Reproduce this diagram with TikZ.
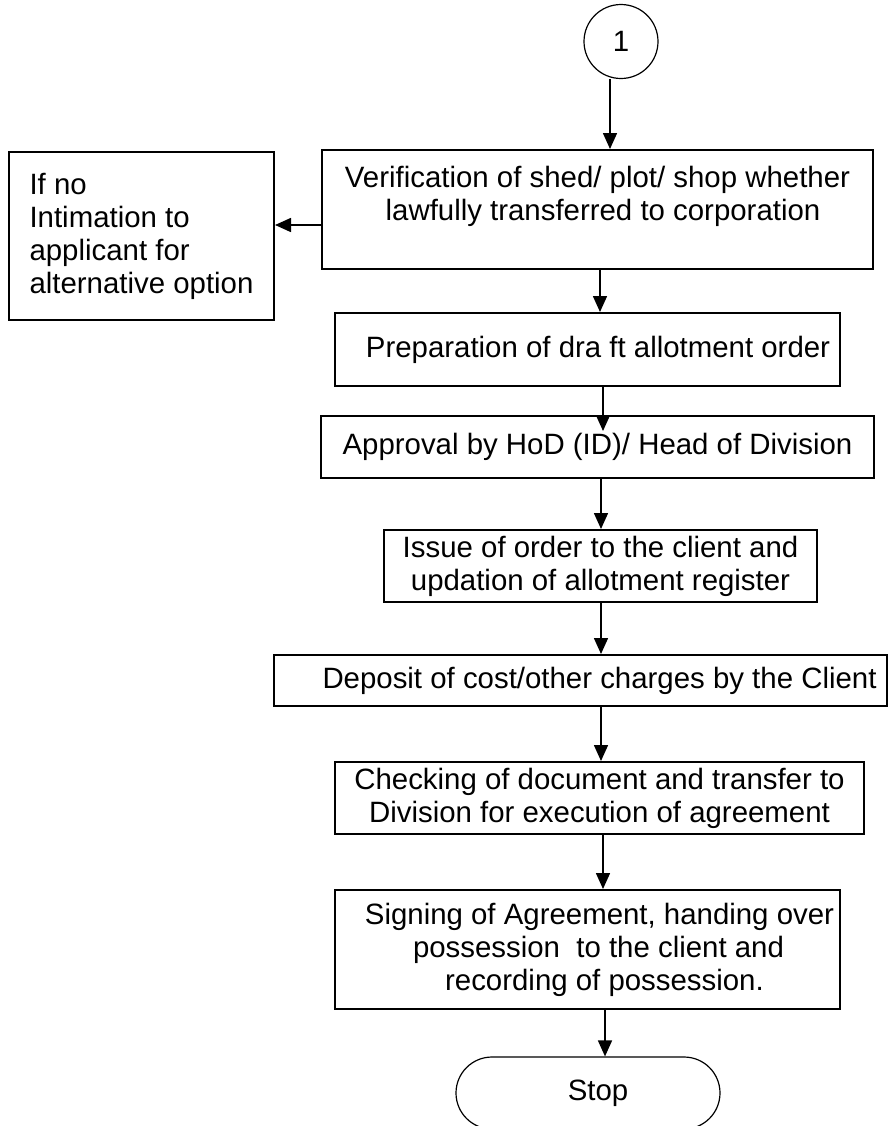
\documentclass[tikz,border=0pt]{standalone}
\usepackage{fontspec}
\setmainfont{Liberation Sans}
\usepackage{tikz}
\usetikzlibrary{arrows.meta, positioning, calc}
\tikzstyle{arrow} = [line width=0.8pt,-{Triangle[length=8pt,width=7pt]}]
\tikzstyle{stepbox} = [rectangle, line width=1pt, draw=black, align=center, inner sep=2pt, font=\fontsize{14.7}{16.5}\selectfont]
\tikzstyle{connector} = [circle, line width=0.6pt, draw=black, minimum size=37pt, inner sep=0pt, font=\fontsize{14.7}{16.5}\selectfont]
\tikzstyle{terminal} = [rectangle, rounded corners=18pt, line width=0.6pt, draw=black, font=\fontsize{14.7}{16.5}\selectfont]

\begin{document}
\begin{tikzpicture}[x=0.5pt,y=-0.5pt]
    \useasboundingbox (0,0) rectangle (889,1126);
   	\node[connector](s_0) at (621,41.5) {1};
   	\node[stepbox,minimum width=275.5pt,minimum height=59.5pt](s_1) at (597.5,209.5) {Verification of shed/ plot/ shop whether\\\hspace*{5.5pt}lawfully transferred to corporation\\\mbox{}};
   	\node[stepbox,align=left,minimum width=132.5pt,minimum height=84pt](s_alt) at (141.5,236) {If no\\Intimation to\\applicant for\\alternative option};
   	\node[stepbox,minimum width=252.5pt,minimum height=36.5pt](s_2) at (587.5,349.5) {\hspace*{10.5pt}Preparation of dra ft allotment order};
   	\node[stepbox,minimum width=276.5pt,minimum height=31pt](s_3) at (597.5,447) {Approval by HoD (ID)/ Head of Division};
   	\node[stepbox,minimum width=216.5pt,minimum height=36pt](s_4) at (600.5,566) {Issue of order to the client and\\updation of allotment register};
   	\node[stepbox,minimum width=306.5pt,minimum height=25.5pt](s_5) at (580.5,680.5) {\hspace*{19pt}Deposit of cost/other charges by the Client};
   	\node[stepbox,minimum width=264.5pt,minimum height=36pt](s_6) at (599.5,798) {Checking of document and transfer to\\Division for execution of agreement};
   	\node[stepbox,minimum width=252.5pt,minimum height=59.5pt](s_7) at (587.5,949.5) {\hspace*{12pt}Signing of Agreement, handing over\\\hspace*{11pt}possession \ to the client and\\\hspace*{17pt}recording of possession.};
   	\node[terminal,minimum width=132pt,minimum height=36pt](s_8) at (588,1093) {\hspace*{10pt}Stop};
    \path[arrow]
    ([xshift=-5.5pt]s_0.south) edge ([xshift=-5.5pt]s_0.south |- s_1.north)
    (s_1.west |- 0,225) edge (s_alt.east |- 0,225)
    (s_1.south -| 600,0) edge (s_2.north -| 600,0)
    (s_2.south -| 603,0) edge [shorten >=-8pt] (s_3.north -| 603,0)
    (s_3.south -| 601,0) edge (s_4.north -| 601,0)
    (s_4.south -| 601,0) edge (s_5.north -| 601,0)
    (s_5.south -| 601,0) edge (s_6.north -| 601,0)
    (s_6.south -| 603,0) edge (s_7.north -| 603,0)
    (s_7.south -| 605,0) edge (s_8.north -| 605,0);
\end{tikzpicture}
\end{document}
